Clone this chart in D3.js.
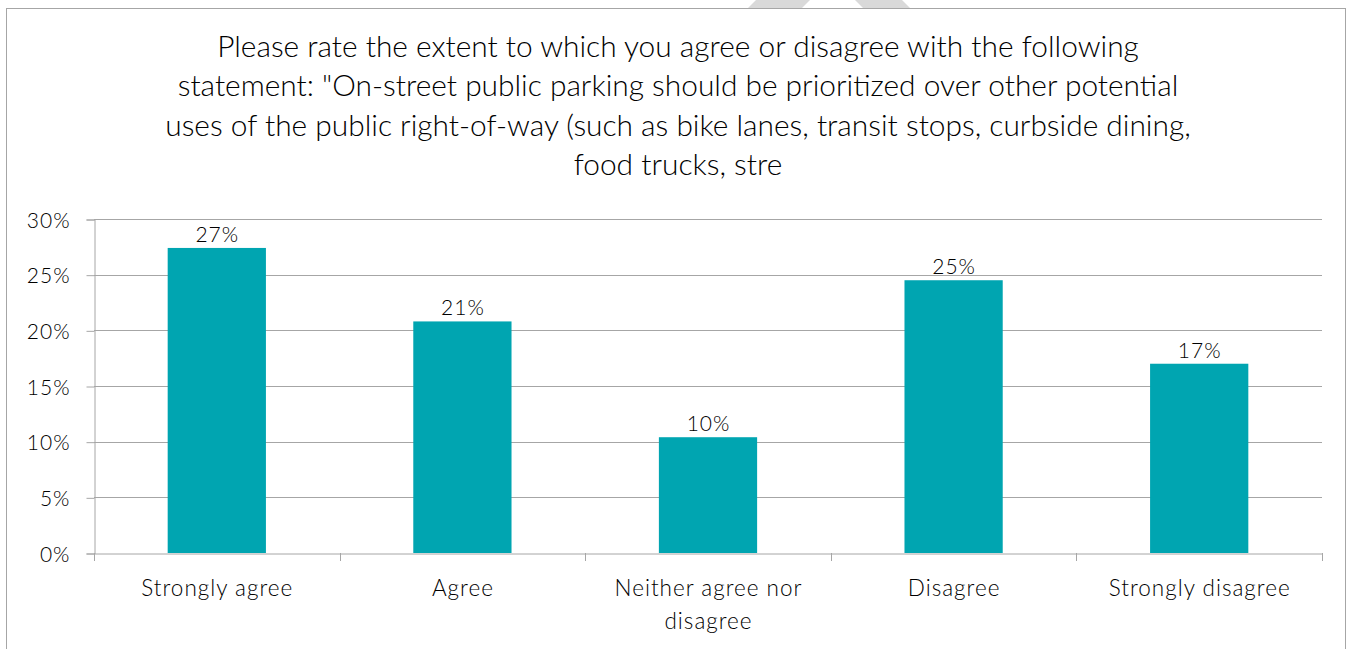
<!DOCTYPE html>
<html>
<head>
<meta charset="utf-8">
<script src="https://cdn.jsdelivr.net/npm/d3@7"></script>
<style>
  html, body { margin: 0; padding: 0; background: #fff; }
  svg { display: block; }
  text { font-family: Lato, "Open Sans", sans-serif; font-weight: 300; fill: #000; }
</style>
</head>
<body>
<svg id="chart" width="1352" height="649"></svg>
<script>
const categories = ["Strongly agree", "Agree", "Neither agree nor disagree", "Disagree", "Strongly disagree"];
const values = [0.274, 0.208, 0.104, 0.245, 0.170];
const valueLabels = ["27%", "21%", "10%", "25%", "17%"];
const yTicks = [0, 0.05, 0.10, 0.15, 0.20, 0.25, 0.30];
const titleLines = [
  "Please rate the extent to which you agree or disagree with the following",
  "statement: \"On-street public parking should be prioritized over other potential",
  "uses of the public right-of-way (such as bike lanes, transit stops, curbside dining,",
  "food trucks, stre"
];
const categoryLines = [["Strongly agree"], ["Agree"], ["Neither agree nor", "disagree"], ["Disagree"], ["Strongly disagree"]];

const svg = d3.select("#chart");
const W = 1352, H = 649;
const margin = {left: 94, right: 30, top: 219, bottom: 96};
const plotW = W - margin.left - margin.right; // 1228
const plotH = H - margin.top - margin.bottom; // 334

// watermark fragment above the frame
const wm = svg.append("g").attr("fill", "#d9d9d9");
wm.append("polygon").attr("points", "748,8 802,8 810,0 756,0");
wm.append("polygon").attr("points", "863,8 910,8 902,0 855,0");

// outer frame
svg.append("rect")
  .attr("x", 6.5).attr("y", 8.5).attr("width", 1339).attr("height", 660)
  .attr("fill", "none").attr("stroke", "#a6a6a6").attr("stroke-width", 1);

// title
const title = svg.append("text").attr("text-anchor", "middle").style("font-size", "24px");
title.selectAll("tspan").data(titleLines).join("tspan")
  .attr("x", 678).attr("y", (d, i) => 57 + i * 39.3).text(d => d);
const l1 = title.select("tspan").node().getComputedTextLength();
title.style("font-size", (24 * 922 / l1).toFixed(2) + "px");

const x = d3.scaleBand().domain(categories).range([margin.left, margin.left + plotW]).paddingInner(0.6).paddingOuter(0.3);
const xb = d3.scaleBand().domain(categories).range([margin.left, margin.left + plotW]);
const y = d3.scaleLinear().domain([0, 0.30]).range([margin.top + plotH, margin.top]);

// grid lines
svg.append("g").selectAll("line").data(yTicks.slice(1)).join("line")
  .attr("x1", margin.left).attr("x2", margin.left + plotW)
  .attr("y1", d => Math.round(y(d)) + 0.5).attr("y2", d => Math.round(y(d)) + 0.5)
  .attr("stroke", "#a6a6a6").attr("stroke-width", 1);

// y axis
const yAxis = d3.axisLeft(y).tickValues(yTicks).tickFormat(d3.format(".0%")).tickSize(8).tickPadding(16);
const gy = svg.append("g").attr("transform", `translate(${margin.left + 0.5},0.5)`).call(yAxis);
gy.attr("font-family", null).attr("font-size", null);
gy.select(".domain").attr("stroke", "#a6a6a6");
gy.selectAll(".tick line").attr("stroke", "#a6a6a6");
gy.selectAll(".tick text").style("font-size", "21px").style("letter-spacing", "1px")
  .attr("fill", "#000").attr("dy", "0.36em");

// x axis
const xAxis = d3.axisBottom(xb).tickSize(0).tickFormat("");
const gx = svg.append("g").attr("transform", `translate(0,${y(0) + 0.5})`).call(xAxis);
gx.select(".domain").attr("stroke", "#a6a6a6");
const bounds = categories.map(c => xb(c)).concat([margin.left + plotW]);
svg.append("g").selectAll("line").data(bounds).join("line")
  .attr("x1", d => Math.round(d) + 0.5).attr("x2", d => Math.round(d) + 0.5)
  .attr("y1", y(0)).attr("y2", y(0) + 8)
  .attr("stroke", "#a6a6a6");

// bars
svg.append("g").selectAll("rect").data(values).join("rect")
  .attr("x", (d, i) => x(categories[i]))
  .attr("width", x.bandwidth())
  .attr("y", d => y(d))
  .attr("height", d => y(0) - y(d))
  .attr("fill", "#00A5B1");

// value labels
svg.append("g").selectAll("text").data(values).join("text")
  .attr("x", (d, i) => x(categories[i]) + x.bandwidth() / 2 + 0.5)
  .attr("y", d => y(d) - 6)
  .attr("text-anchor", "middle").style("font-size", "21px").style("letter-spacing", "1px")
  .text((d, i) => valueLabels[i]);

// category labels
const cl = svg.append("g").selectAll("text").data(categories).join("text")
  .attr("text-anchor", "middle").style("font-size", "22.5px").style("letter-spacing", "1px");
cl.each(function(d, i) {
  d3.select(this).selectAll("tspan").data(categoryLines[i]).join("tspan")
    .attr("x", xb(d) + xb.bandwidth() / 2 + 0.5)
    .attr("y", (t, j) => 596 + j * 33)
    .text(t => t);
});
</script>
</body>
</html>
